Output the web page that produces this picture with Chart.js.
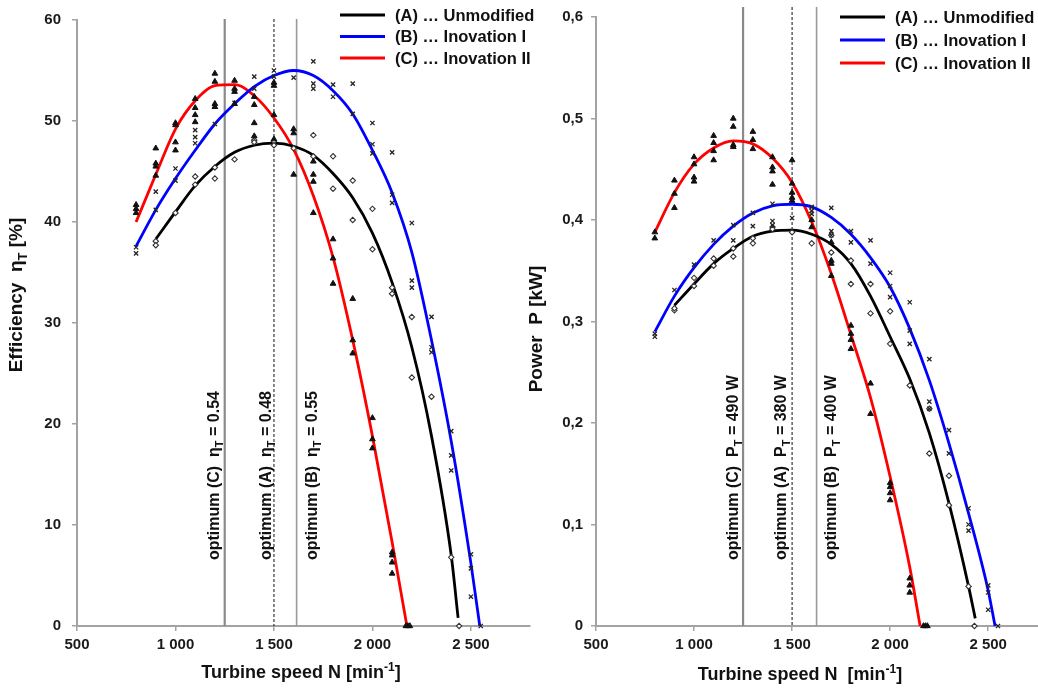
<!DOCTYPE html>
<html>
<head>
<meta charset="utf-8">
<script src="https://cdn.jsdelivr.net/npm/chart.js@4.4.0/dist/chart.umd.min.js"></script>
<style>
  html, body { margin: 0; padding: 0; background: #fff; overflow: hidden; }
  #wrap { position: relative; width: 1038px; height: 688px; overflow: hidden; }
  #eff { position: absolute; left: 0; top: 0; }
  #pow { position: absolute; left: 520px; top: 0; }
</style>
</head>
<body>
<div id="wrap">
  <canvas id="eff" width="545" height="688"></canvas>
  <canvas id="pow" width="545" height="688"></canvas>
</div>
<script>
const FONT = "'Liberation Sans', Arial, sans-serif";

// Series names and colours (A, B, C)
const seriesNames = ['(A) … Unmodified', '(B) … Inovation I', '(C) … Inovation II'];
const seriesColors = ['#000000', '#0000ff', '#ff0000'];

// Axis ticks
const speedTicks = [500, 1000, 1500, 2000, 2500];
const speedLabels = ['500', '1 000', '1 500', '2 000', '2 500'];
const effTicks = [0, 10, 20, 30, 40, 50, 60];
const effLabels = ['0', '10', '20', '30', '40', '50', '60'];
const powTicks = [0, 0.1, 0.2, 0.3, 0.4, 0.5, 0.6];
const powLabels = ['0', '0,1', '0,2', '0,3', '0,4', '0,5', '0,6'];

// Optimum markers, order C, A, B
const optimaNames = ['(C)', '(A)', '(B)'];
const effOptimaN = [1250, 1500, 1615];
const effOptimaValues = ['0.54', '0.48', '0.55'];
const powOptimaN = [1250, 1500, 1625];
const powOptimaValues = ['490 W', '380 W', '400 W'];

// Efficiency fitted curves [%]
const effFitNA = [900, 1000, 1100, 1200, 1300, 1400, 1500, 1600, 1700, 1800, 1900, 2000, 2100, 2200, 2300, 2400, 2435];
const effFitA = [38.3, 41.0, 43.6, 45.5, 46.9, 47.6, 47.8, 47.5, 46.6, 44.8, 42.4, 38.9, 34.0, 27.6, 18.8, 7.0, 0.8];
const effFitNB = [800, 900, 1000, 1100, 1200, 1300, 1400, 1500, 1600, 1700, 1800, 1900, 2000, 2100, 2200, 2300, 2400, 2500, 2545];
const effFitB = [37.6, 41.2, 44.3, 47.1, 49.7, 51.7, 53.4, 54.5, 55.0, 54.5, 53.0, 50.7, 47.1, 42.9, 37.0, 28.3, 18.3, 6.2, 0];
const effFitNC = [800, 900, 1000, 1100, 1200, 1300, 1400, 1500, 1600, 1700, 1800, 1900, 2000, 2100, 2175];
const effFitC = [40.0, 44.7, 49.2, 52.0, 53.5, 53.6, 52.5, 50.3, 47.2, 42.6, 36.5, 28.3, 18.8, 8.3, 0];

// Efficiency measurements [N, %]
const effPointsA = [[900,38.1],[900,37.7],[1000,40.9],[1100,44.5],[1100,43.7],[1200,45.4],[1200,44.3],
  [1300,46.2],[1400,48.1],[1400,47.9],[1500,48.0],[1500,47.6],[1600,47.3],[1700,48.6],[1700,46.5],
  [1800,46.5],[1800,43.3],[1900,44.1],[1900,40.2],[2000,41.3],[2000,37.3],[2100,33.5],[2100,32.9],
  [2200,30.6],[2200,24.6],[2300,22.7],[2400,6.8],[2440,0]];
const effPointsB = [[800,37.5],[800,36.9],[900,43.0],[900,41.2],[1000,45.3],[1000,44.1],[1100,49.1],
  [1100,48.4],[1100,47.8],[1200,49.7],[1300,51.8],[1400,54.4],[1400,53.2],[1500,55.0],[1500,54.4],
  [1600,54.3],[1700,55.9],[1700,53.7],[1700,53.2],[1800,53.6],[1800,52.4],[1900,53.7],[1900,50.7],
  [2000,49.8],[2000,47.7],[2000,46.8],[2100,46.9],[2100,42.7],[2100,41.9],[2200,39.9],[2200,34.2],
  [2200,33.5],[2300,30.6],[2300,27.6],[2300,27.1],[2400,19.3],[2400,16.9],[2400,15.4],[2500,7.1],
  [2500,5.7],[2500,2.9],[2550,0]];
const effPointsC = [[800,41.7],[800,41.3],[800,40.9],[900,47.3],[900,45.8],[900,45.5],[900,44.6],
  [1000,49.8],[1000,49.6],[1000,47.9],[1000,47.1],[1100,52.2],[1100,51.3],[1100,50.6],[1100,49.9],
  [1200,54.7],[1200,53.9],[1200,51.7],[1200,51.4],[1300,54.0],[1300,53.2],[1300,52.9],[1300,51.7],
  [1400,52.4],[1400,51.6],[1400,49.8],[1400,48.5],[1500,53.8],[1500,53.5],[1500,50.6],[1500,48.2],
  [1600,49.2],[1600,48.8],[1600,44.7],[1700,46.0],[1700,44.7],[1700,44.0],[1700,40.9],[1800,38.3],
  [1800,36.4],[1800,33.9],[1900,32.4],[1900,28.3],[1900,27.0],[2000,20.6],[2000,18.5],[2000,17.6],
  [2100,7.3],[2100,7.0],[2100,6.3],[2100,5.2],[2170,0],[2180,0],[2190,0]];

// Power fitted curves [kW]
const powFitNA = [900, 1000, 1100, 1200, 1300, 1400, 1500, 1600, 1700, 1800, 1900, 2000, 2100, 2200, 2300, 2400, 2434];
const powFitA = [0.316, 0.337, 0.357, 0.372, 0.384, 0.389, 0.390, 0.386, 0.376, 0.357, 0.325, 0.285, 0.2435, 0.190, 0.121, 0.039, 0.0075];
const powFitNB = [800, 900, 1000, 1100, 1200, 1300, 1400, 1500, 1600, 1700, 1800, 1900, 2000, 2100, 2200, 2300, 2400, 2500, 2535];
const powFitB = [0.290, 0.325, 0.353, 0.376, 0.394, 0.407, 0.414, 0.4155, 0.413, 0.4025, 0.386, 0.363, 0.334, 0.293, 0.242, 0.180, 0.111, 0.035, 0];
const powFitNC = [800, 900, 1000, 1100, 1200, 1300, 1400, 1500, 1600, 1700, 1800, 1900, 2000, 2100, 2153];
const powFitC = [0.388, 0.427, 0.455, 0.471, 0.478, 0.475, 0.461, 0.437, 0.398, 0.347, 0.287, 0.225, 0.147, 0.058, 0];

// Power measurements [N, kW]
const powPointsA = [[900,0.311],[900,0.313],[1000,0.343],[1000,0.335],[1100,0.362],[1100,0.355],
  [1200,0.372],[1200,0.364],[1300,0.382],[1300,0.377],[1400,0.393],[1400,0.391],[1500,0.388],
  [1600,0.377],[1700,0.385],[1700,0.368],[1800,0.360],[1800,0.337],[1900,0.337],[1900,0.308],
  [2000,0.310],[2000,0.278],[2100,0.237],[2200,0.214],[2200,0.170],[2300,0.148],[2300,0.119],
  [2400,0.039],[2430,0]];
const powPointsB = [[800,0.288],[800,0.285],[900,0.331],[1000,0.356],[1100,0.380],[1200,0.395],
  [1200,0.380],[1300,0.407],[1300,0.394],[1400,0.416],[1400,0.399],[1400,0.395],[1500,0.402],
  [1600,0.413],[1600,0.409],[1600,0.406],[1700,0.412],[1700,0.389],[1700,0.385],[1800,0.389],
  [1800,0.378],[1900,0.380],[1900,0.357],[2000,0.348],[2000,0.335],[2000,0.324],[2100,0.319],
  [2100,0.291],[2100,0.278],[2200,0.263],[2200,0.221],[2200,0.214],[2300,0.193],[2300,0.170],
  [2400,0.116],[2400,0.100],[2400,0.094],[2500,0.040],[2500,0.033],[2500,0.016],[2550,0]];
const powPointsC = [[800,0.388],[800,0.382],[900,0.439],[900,0.426],[900,0.412],[1000,0.462],
  [1000,0.455],[1000,0.442],[1000,0.438],[1100,0.483],[1100,0.476],[1100,0.468],[1100,0.459],
  [1200,0.500],[1200,0.492],[1200,0.474],[1200,0.472],[1300,0.487],[1300,0.479],[1300,0.470],
  [1400,0.462],[1400,0.452],[1400,0.448],[1400,0.435],[1500,0.459],[1500,0.436],[1500,0.427],
  [1500,0.422],[1500,0.419],[1600,0.400],[1600,0.393],[1700,0.378],[1700,0.360],[1700,0.357],
  [1700,0.345],[1800,0.296],[1800,0.288],[1800,0.282],[1800,0.273],[1900,0.239],[1900,0.209],
  [2000,0.141],[2000,0.137],[2000,0.131],[2000,0.124],[2100,0.047],[2100,0.040],[2100,0.033],
  [2170,0],[2180,0],[2190,0]];

Chart.defaults.font.family = FONT;

const toPoints = arr => arr.map(([x, y]) => ({ x, y }));
const toCurve = (ns, vs) => ns.map((x, i) => ({ x, y: vs[i] }));

// Rich text helpers (subscript / superscript pieces)
function partFont(p, size, weight) {
  const s = (p.sub || p.sup) ? Math.round(size * 0.68) : size;
  return `${weight} ${s}px ${FONT}`;
}
function richWidth(ctx, parts, size, weight) {
  let w = 0;
  parts.forEach(p => { ctx.font = partFont(p, size, weight); w += ctx.measureText(p.t).width; });
  return w;
}
function drawRich(ctx, parts, x, y, size, weight) {
  parts.forEach(p => {
    ctx.font = partFont(p, size, weight);
    const dy = p.sub ? size * 0.32 : (p.sup ? -size * 0.32 : 0);
    ctx.fillText(p.t, x, y + dy);
    x += ctx.measureText(p.t).width;
  });
}

// Plugin: optimum lines + labels, legend, axis titles
function makeAnnotator(spec) {
  return {
    id: 'annotator',
    beforeDatasetsDraw(chart) {
      const { ctx, chartArea, scales: { x } } = chart;
      spec.optima.forEach(o => {
        const px = x.getPixelForValue(o.n);
        ctx.save();
        ctx.strokeStyle = o.color;
        ctx.lineWidth = o.width;
        ctx.setLineDash(o.dash || []);
        ctx.beginPath();
        ctx.moveTo(px, spec.lineTop);
        ctx.lineTo(px, chartArea.bottom);
        ctx.stroke();
        ctx.restore();
      });
    },
    afterDraw(chart) {
      const { ctx, scales: { x } } = chart;
      ctx.save();
      ctx.fillStyle = '#111';
      ctx.textBaseline = 'middle';
      ctx.textAlign = 'left';

      // optimum labels, rotated
      spec.optima.forEach(o => {
        const px = x.getPixelForValue(o.n);
        ctx.save();
        ctx.translate(px + o.off, spec.labelBottom);
        ctx.rotate(-Math.PI / 2);
        drawRich(ctx, o.parts, 0, 0, 16, 'bold');
        ctx.restore();
      });

      // legend
      seriesNames.forEach((name, i) => {
        const y = spec.legend.y0 + i * spec.legend.dy;
        ctx.strokeStyle = seriesColors[i];
        ctx.lineWidth = 3;
        ctx.beginPath();
        ctx.moveTo(spec.legend.x, y);
        ctx.lineTo(spec.legend.x + 45, y);
        ctx.stroke();
        ctx.font = `bold 16.5px ${FONT}`;
        ctx.fillText(name, spec.legend.x + 55, y + 1);
      });

      // y title
      const yw = richWidth(ctx, spec.yTitle.parts, 19, 'bold');
      ctx.save();
      ctx.translate(spec.yTitle.x, spec.yTitle.y);
      ctx.rotate(-Math.PI / 2);
      drawRich(ctx, spec.yTitle.parts, -yw / 2, 0, 19, 'bold');
      ctx.restore();

      // x title
      const xw = richWidth(ctx, spec.xTitle.parts, 18, 'bold');
      drawRich(ctx, spec.xTitle.parts, spec.xTitle.x - xw / 2, spec.xTitle.y, 18, 'bold');
      ctx.restore();
    }
  };
}

function markerSets(pA, pB, pC) {
  return [
    { data: toPoints(pC), pointStyle: 'triangle', pointRadius: 3.3, backgroundColor: '#111', borderColor: '#111', borderWidth: 1, showLine: false, clip: false },
    { data: toPoints(pB), pointStyle: 'crossRot', pointRadius: 3, borderColor: '#222', borderWidth: 1.3, showLine: false, clip: false },
    { data: toPoints(pA), pointStyle: 'rectRot', pointRadius: 2.7, backgroundColor: '#fff', borderColor: '#333', borderWidth: 1.1, showLine: false, clip: false }
  ];
}

function curveSet(data, color) {
  return { data, showLine: true, borderColor: color, borderWidth: 2.8, pointRadius: 0, fill: false, cubicInterpolationMode: 'monotone', clip: false };
}

function axisStyle() {
  return {
    border: { color: '#a3a3a3', width: 2 },
    grid: { drawOnChartArea: false, drawTicks: true, tickLength: 5, color: '#a3a3a3', lineWidth: 1.5 },
  };
}

function buildChart(canvas, cfg) {
  return new Chart(canvas, {
    type: 'scatter',
    data: {
      datasets: [
        ...markerSets(cfg.pA, cfg.pB, cfg.pC),
        curveSet(cfg.fA, seriesColors[0]),
        curveSet(cfg.fB, seriesColors[1]),
        curveSet(cfg.fC, seriesColors[2])
      ]
    },
    options: {
      responsive: false,
      animation: false,
      events: [],
      layout: { padding: { left: 0, top: 16, right: cfg.padRight, bottom: 0 } },
      plugins: { legend: { display: false }, tooltip: { enabled: false } },
      scales: {
        x: {
          type: 'linear', min: 500, max: 2800,
          afterBuildTicks: s => { s.ticks = speedTicks.map(value => ({ value })); },
          afterFit: s => { s.height = 62; },
          ...axisStyle(),
          ticks: { callback: (v, i) => speedLabels[i], font: { size: 15, weight: 'bold' }, color: '#1a1a1a', padding: 5, maxRotation: 0, autoSkip: false }
        },
        y: {
          type: 'linear', min: cfg.yTicks[0], max: cfg.yTicks[cfg.yTicks.length - 1],
          afterBuildTicks: s => { s.ticks = cfg.yTicks.map(value => ({ value })); },
          afterFit: s => { s.width = cfg.yWidth; },
          ...axisStyle(),
          ticks: { callback: (v, i) => cfg.yLabels[i], font: { size: 15, weight: 'bold' }, color: '#1a1a1a', padding: cfg.yPad, autoSkip: false }
        }
      }
    },
    plugins: [makeAnnotator(cfg.spec)]
  });
}

function optimaSpec(ns, symbol, values, offs) {
  const styles = [
    { color: '#8a8a8a', width: 2.2, dash: null },
    { color: '#111', width: 1, dash: [3, 2] },
    { color: '#9a9a9a', width: 1.6, dash: null }
  ];
  return ns.map((n, i) => ({
    n, ...styles[i], off: offs[i],
    parts: [{ t: `optimum ${optimaNames[i]}  ${symbol}` }, { t: 'T', sub: true }, { t: ` = ${values[i]}` }]
  }));
}

buildChart(document.getElementById('eff'), {
  pA: effPointsA, pB: effPointsB, pC: effPointsC,
  fA: toCurve(effFitNA, effFitA), fB: toCurve(effFitNB, effFitB), fC: toCurve(effFitNC, effFitC),
  yTicks: effTicks, yLabels: effLabels, yWidth: 77, yPad: 11, padRight: 15,
  spec: {
    lineTop: 19, labelBottom: 560,
    optima: optimaSpec(effOptimaN, 'η', effOptimaValues, [-10, -7, 16]),
    legend: { x: 340, y0: 15, dy: 21.5 },
    yTitle: { x: 17, y: 295, parts: [{ t: 'Efficiency  η' }, { t: 'T', sub: true }, { t: ' [%]' }] },
    xTitle: { x: 301, y: 673, parts: [{ t: 'Turbine speed N [min' }, { t: '-1', sup: true }, { t: ']' }] }
  }
});

buildChart(document.getElementById('pow'), {
  pA: powPointsA, pB: powPointsB, pC: powPointsC,
  fA: toCurve(powFitNA, powFitA), fB: toCurve(powFitNB, powFitB), fC: toCurve(powFitNC, powFitC),
  yTicks: powTicks, yLabels: powLabels, yWidth: 76, yPad: 8, padRight: 18,
  spec: {
    lineTop: 7, labelBottom: 560,
    optima: optimaSpec(powOptimaN, 'P', powOptimaValues, [-9, -10, 15]),
    legend: { x: 320, y0: 17, dy: 23 },
    yTitle: { x: 17, y: 329, parts: [{ t: 'Power  P [kW]' }] },
    xTitle: { x: 280, y: 675, parts: [{ t: 'Turbine speed N  [min' }, { t: '-1', sup: true }, { t: ']' }] }
  }
});
</script>
</body>
</html>
